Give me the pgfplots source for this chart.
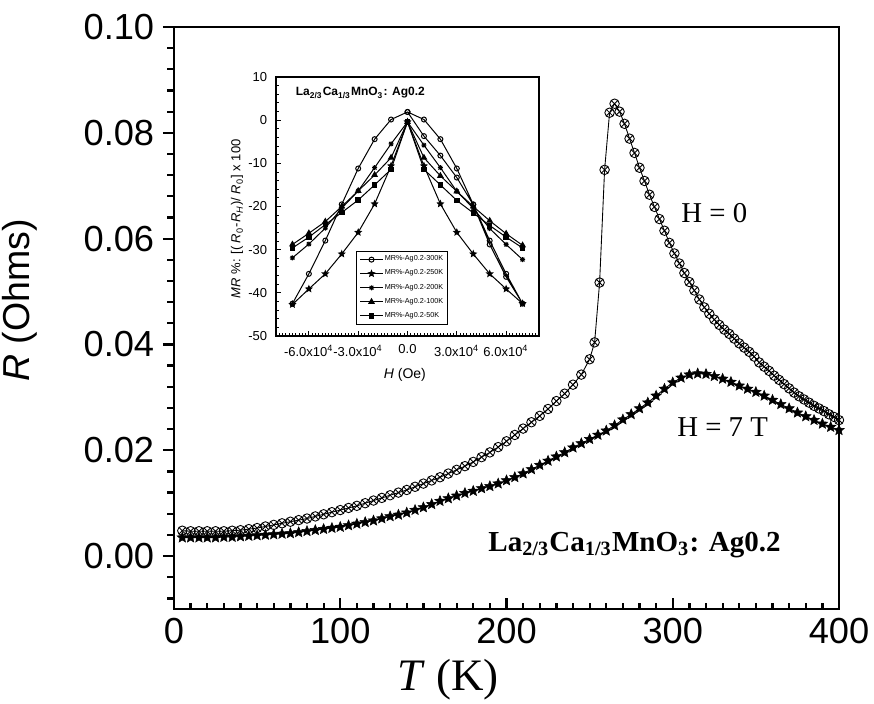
\documentclass[border=0pt]{standalone}
\usepackage{fontspec}
\setmainfont{Liberation Sans}
\newfontfamily\timesfont{Liberation Serif}
\usepackage{pgfplots}
\pgfplotsset{compat=1.18}
\usetikzlibrary{calc,plotmarks}

% filled five-point star and x-plus marks
\pgfdeclareplotmark{fstar}{%
  \pgfpathmoveto{\pgfpointpolar{90}{\pgfplotmarksize}}%
  \pgfpathlineto{\pgfpointpolar{126}{0.45\pgfplotmarksize}}%
  \pgfpathlineto{\pgfpointpolar{162}{\pgfplotmarksize}}%
  \pgfpathlineto{\pgfpointpolar{198}{0.45\pgfplotmarksize}}%
  \pgfpathlineto{\pgfpointpolar{234}{\pgfplotmarksize}}%
  \pgfpathlineto{\pgfpointpolar{270}{0.45\pgfplotmarksize}}%
  \pgfpathlineto{\pgfpointpolar{306}{\pgfplotmarksize}}%
  \pgfpathlineto{\pgfpointpolar{342}{0.45\pgfplotmarksize}}%
  \pgfpathlineto{\pgfpointpolar{18}{\pgfplotmarksize}}%
  \pgfpathlineto{\pgfpointpolar{54}{0.45\pgfplotmarksize}}%
  \pgfpathclose\pgfusepathqfillstroke}
\pgfdeclareplotmark{xplus}{%
  \pgfpathmoveto{\pgfqpoint{-\pgfplotmarksize}{0pt}}\pgfpathlineto{\pgfqpoint{\pgfplotmarksize}{0pt}}%
  \pgfpathmoveto{\pgfqpoint{0pt}{-\pgfplotmarksize}}\pgfpathlineto{\pgfqpoint{0pt}{\pgfplotmarksize}}%
  \pgfpathmoveto{\pgfpoint{-0.75\pgfplotmarksize}{-0.75\pgfplotmarksize}}\pgfpathlineto{\pgfpoint{0.75\pgfplotmarksize}{0.75\pgfplotmarksize}}%
  \pgfpathmoveto{\pgfpoint{-0.75\pgfplotmarksize}{0.75\pgfplotmarksize}}\pgfpathlineto{\pgfpoint{0.75\pgfplotmarksize}{-0.75\pgfplotmarksize}}%
  \pgfusepathqstroke}

\begin{document}
\begin{tikzpicture}
\begin{axis}[
    name=main,
    width=266pt, height=232.8pt, scale only axis,
    xmin=0, xmax=400, ymin=-0.01, ymax=0.10,
    axis line style={line width=0.9pt},
    tick pos=left,
    xtick align=inside, ytick align=outside,
    xtick={0,100,200,300,400},
    xticklabels={0,100,200,300,400},
    minor xtick={10,20,...,390},
    ytick={0,0.02,0.04,0.06,0.08,0.10},
    yticklabels={0.00,0.02,0.04,0.06,0.08,0.10},
    minor ytick={-0.008,-0.004,0.004,0.008,0.012,0.016,0.024,0.028,0.032,0.036,0.044,0.048,0.052,0.056,0.064,0.068,0.072,0.076,0.084,0.088,0.092,0.096},
    major tick length=4.4pt, minor tick length=2.6pt,
    every tick/.style={line width=0.9pt, black},
    tick label style={font=\fontsize{14.5}{14.5}\selectfont},
    xlabel={\timesfont\textit{T} (K)},
    ylabel={\textit{R} (Ohms)},
    every axis x label/.style={at={(axis description cs:0.412,-0.122)}, anchor=center, font=\fontsize{18}{18}\selectfont},
    every axis y label/.style={at={(axis description cs:-0.2316,0.53)}, rotate=90, anchor=center, font=\fontsize{15}{15}\selectfont},
    clip=false,
]
% H = 0
\addplot[black, line width=0.35pt, mark=otimes, mark size=1.9pt, mark options={line width=0.35pt, fill=white}] coordinates {
(5,0.0048) (10,0.0047) (15,0.0047) (20,0.0047) (25,0.0047) (30,0.0047) (35,0.0048) (40,0.0049)
(45,0.0051) (50,0.0053) (55,0.0056) (60,0.0059) (65,0.0062) (70,0.0065) (75,0.0068) (80,0.0071)
(85,0.0075) (90,0.0079) (95,0.0083) (100,0.0087) (105,0.0091) (110,0.0095) (115,0.0100) (120,0.0105)
(125,0.0110) (130,0.0115) (135,0.0120) (140,0.0125) (145,0.0131) (150,0.0137) (155,0.0143) (160,0.0149)
(165,0.0156) (170,0.0163) (175,0.0170) (180,0.0178) (185,0.0187) (190,0.0196) (195,0.0206) (200,0.0217)
(205,0.0229) (210,0.0241) (215,0.0253) (220,0.0265) (225,0.0278) (230,0.0293) (235,0.0307) (240,0.0324)
(245,0.0343) (250,0.0372) (253,0.0404) (256,0.0517) (259,0.0730) (262,0.0838) (265,0.0855) (268,0.0840)
(271,0.0817) (274,0.0789) (277,0.0762) (280,0.0734) (283,0.0709) (286,0.0683) (289,0.0660) (292,0.0637)
(295,0.0615) (298,0.0592) (301,0.0572) (304,0.0553) (307,0.0535) (310,0.0518) (313,0.0502) (316,0.0485)
(319,0.0470) (322,0.0458) (325,0.0447) (328,0.0437) (331,0.0428) (334,0.0420) (337,0.0411) (340,0.0402)
(343,0.0394) (346,0.0386) (349,0.0377) (352,0.0366) (355,0.0358) (358,0.0350) (361,0.0341) (364,0.0333)
(367,0.0325) (370,0.0317) (373,0.0309) (376,0.0302) (379,0.0296) (382,0.0290) (385,0.0284) (388,0.0279)
(391,0.0274) (394,0.0268) (397,0.0263) (400,0.0257)
};
% H = 7 T
\addplot[black, line width=0.35pt, mark=fstar, mark size=2.2pt, mark options={line width=0.2pt, fill=black}] coordinates {
(5,0.0035) (10,0.0035) (15,0.0035) (20,0.0035) (25,0.0035) (30,0.0036) (35,0.0036) (40,0.0037)
(45,0.0038) (50,0.0039) (55,0.0040) (60,0.0041) (65,0.0042) (70,0.0043) (75,0.0045) (80,0.0047)
(85,0.0049) (90,0.0051) (95,0.0053) (100,0.0055) (105,0.0058) (110,0.0061) (115,0.0064) (120,0.0067)
(125,0.0071) (130,0.0075) (135,0.0078) (140,0.0082) (145,0.0087) (150,0.0092) (155,0.0098) (160,0.0104)
(165,0.0109) (170,0.0114) (175,0.0119) (180,0.0123) (185,0.0128) (190,0.0132) (195,0.0137) (200,0.0143)
(205,0.0149) (210,0.0156) (215,0.0164) (220,0.0172) (225,0.0180) (230,0.0188) (235,0.0196) (240,0.0205)
(245,0.0213) (250,0.0221) (255,0.0229) (260,0.0237) (265,0.0247) (270,0.0258) (275,0.0268) (280,0.0279)
(285,0.0290) (290,0.0303) (295,0.0316) (300,0.0328) (305,0.0337) (310,0.0343) (315,0.0345) (320,0.0344)
(325,0.0340) (330,0.0335) (335,0.0329) (340,0.0322) (345,0.0316) (350,0.0310) (355,0.0303) (360,0.0295)
(365,0.0287) (370,0.0279) (375,0.0271) (380,0.0264) (385,0.0257) (390,0.0250) (395,0.0244) (400,0.0238)
};
\node[font=\timesfont\fontsize{11.5}{12}\selectfont] at (axis cs:325,0.0649) {H = 0};
\node[font=\timesfont\fontsize{11.5}{12}\selectfont] at (axis cs:330,0.0243) {H = 7 T};
\node[font=\timesfont\bfseries\fontsize{11.6}{12}\selectfont] at (axis cs:277,0.0021) {La\textsubscript{2/3}Ca\textsubscript{1/3}MnO\textsubscript{3}: Ag0.2};
\end{axis}

\begin{axis}[
    at={($(main.north west)+(40.8pt,-20pt)$)}, anchor=north west,
    width=105.2pt, height=103.6pt, scale only axis,
    xmin=-80000, xmax=80000, ymin=-50, ymax=10,
    axis line style={line width=0.45pt},
    tick pos=left, tick align=inside,
    scaled ticks=false,
    xtick={-60000,-30000,0,30000,60000},
    xticklabels={-6.0x10\textsuperscript{4},-3.0x10\textsuperscript{4},0.0,3.0x10\textsuperscript{4},6.0x10\textsuperscript{4}},
    minor xtick={-78000,-76000,...,78000},
    ytick={-50,-40,-30,-20,-10,0,10},
    yticklabels={-50,-40,-30,-20,-10,0,10},
    minor ytick={-48,-46,...,8},
    major tick length=2pt, minor tick length=1.1pt,
    every tick/.style={line width=0.35pt, black},
    tick label style={font=\fontsize{5.2}{5.2}\selectfont},
    xlabel={\textit{H} (Oe)},
    ylabel={\textit{MR} \%: [( \textit{R}\textsubscript{0}-\textit{R}\textsubscript{\textit{H}})/ \textit{R}\textsubscript{0}] x 100},
    every axis x label/.style={at={(axis description cs:0.49,-0.151)}, anchor=center, font=\fontsize{5.6}{5.6}\selectfont},
    every axis y label/.style={at={(axis description cs:-0.148,0.452)}, rotate=90, anchor=center, font=\fontsize{5.2}{5.2}\selectfont},
    legend style={at={(axis description cs:0.654,0.328)}, anchor=north east, draw=black, line width=0.35pt,
        font=\fontsize{2.9}{3.4}\selectfont, inner xsep=1.2pt, inner ysep=1.2pt, row sep=1.5pt,
        nodes={inner sep=0.55pt, text depth=0.1em}},
    legend cell align=left,
    legend image code/.code={\draw[#1, mark repeat=2, mark phase=2] plot coordinates {(0cm,0cm) (0.16cm,0cm) (0.32cm,0cm)};},
    every axis plot/.append style={black, line width=0.4pt, mark size=1pt, mark options={solid}},
]
\addplot[mark=o, mark options={fill=white}] coordinates {
(0,1.9) (10000,-3.7) (20000,-8.2) (30000,-13.3) (40000,-19.6) (50000,-28.8) (60000,-36.3) (70000,-42.5)
(60000,-35.6) (50000,-27.9) (40000,-19.5) (30000,-11.2) (20000,-4.4) (10000,0.15) (0,1.9)
(-10000,0.15) (-20000,-4.4) (-30000,-11.2) (-40000,-19.5) (-50000,-27.9) (-60000,-35.6) (-70000,-42.5)
};
\addlegendentry{MR\%-Ag0.2-300K}
\addplot[mark=fstar, mark size=1.2pt] coordinates {
(-70000,-42.7) (-60000,-39.1) (-50000,-35.6) (-40000,-31.0) (-30000,-26.0) (-20000,-19.4) (-10000,-10.6) (0,-0.4)
(10000,-10.6) (20000,-19.4) (30000,-26.0) (40000,-31.0) (50000,-35.6) (60000,-39.1) (70000,-42.5)
};
\addlegendentry{MR\%-Ag0.2-250K}
\addplot[mark=xplus] coordinates {
(-70000,-31.9) (-60000,-28.7) (-50000,-25.0) (-40000,-20.4) (-30000,-16.4) (-20000,-11.0) (-10000,-5.5) (0,-0.4)
(10000,-5.8) (20000,-11.0) (30000,-16.5) (40000,-20.4) (50000,-25.1) (60000,-28.8) (70000,-32.3)
};
\addlegendentry{MR\%-Ag0.2-200K}
\addplot[mark=triangle*, mark size=1.2pt] coordinates {
(-70000,-28.8) (-60000,-26.2) (-50000,-23.5) (-40000,-20.0) (-30000,-16.4) (-20000,-12.7) (-10000,-8.7) (0,-0.4)
(10000,-8.7) (20000,-12.9) (30000,-16.5) (40000,-20.0) (50000,-23.3) (60000,-26.3) (70000,-29.0)
};
\addlegendentry{MR\%-Ag0.2-100K}
\addplot[mark=square*, mark size=0.9pt] coordinates {
(-70000,-29.6) (-60000,-27.1) (-50000,-24.2) (-40000,-21.4) (-30000,-18.5) (-20000,-15.0) (-10000,-11.4) (0,-0.4)
(10000,-11.4) (20000,-15.0) (30000,-18.6) (40000,-21.5) (50000,-24.4) (60000,-27.1) (70000,-29.6)
};
\addlegendentry{MR\%-Ag0.2-50K}
\node[anchor=west, font=\bfseries\fontsize{4.8}{4.8}\selectfont] at (axis description cs:0.042,0.938)
  {La\textsubscript{2/3}Ca\textsubscript{1/3}MnO\textsubscript{3}: Ag0.2};
\end{axis}

\pgfresetboundingbox
\path ($(main.south west)+(-69.6pt,-37.6pt)$) rectangle ($(main.north east)+(14pt,10.8pt)$);
\end{tikzpicture}
\end{document}
